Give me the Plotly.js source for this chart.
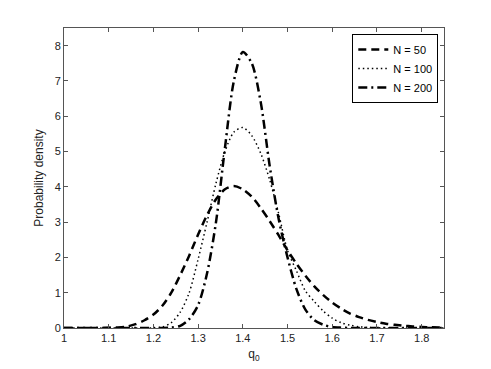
<!DOCTYPE html>
<html>
<head>
<meta charset="utf-8">
<script src="https://cdn.plot.ly/plotly-3.0.1.min.js"></script>
<style>
  html, body { margin: 0; padding: 0; background: #fff; }
  #chart { width: 491px; height: 369px; }
</style>
</head>
<body>
<div id="chart"></div>
<script>
// q0 grid and densities
const q0 = [1.00, 1.05, 1.10, 1.12, 1.14, 1.16, 1.18, 1.20, 1.22, 1.24, 1.26, 1.28, 1.30,
  1.32, 1.34, 1.36, 1.38, 1.40, 1.42, 1.44, 1.46, 1.48, 1.50, 1.52, 1.54, 1.56, 1.58,
  1.60, 1.62, 1.64, 1.66, 1.68, 1.70, 1.72, 1.74, 1.76, 1.78, 1.80, 1.82, 1.85];

const densityN50 = [0, 0, 0.005, 0.015, 0.04, 0.11, 0.22, 0.38, 0.63, 1.0, 1.5, 2.05, 2.65,
  3.2, 3.65, 3.93, 4.02, 3.93, 3.72, 3.4, 3.03, 2.63, 2.2, 1.82, 1.48, 1.18, 0.93,
  0.72, 0.55, 0.41, 0.31, 0.23, 0.17, 0.12, 0.09, 0.065, 0.045, 0.03, 0.02, 0.01];

const densityN100 = [0, 0, 0, 0, 0, 0, 0, 0.005, 0.03, 0.15, 0.45, 1.0, 1.95,
  3.0, 4.1, 5.0, 5.55, 5.68, 5.45, 4.95, 4.2, 3.25, 2.2, 1.62, 1.05, 0.75, 0.48,
  0.28, 0.15, 0.08, 0.035, 0.015, 0.005, 0, 0, 0, 0, 0, 0, 0];

const densityN200 = [0, 0, 0, 0, 0, 0, 0, 0, 0, 0.01, 0.06, 0.25, 0.65,
  1.55, 3.0, 5.1, 7.0, 7.82, 7.5, 6.4, 4.6, 3.1, 2.0, 1.1, 0.52, 0.22, 0.09,
  0.03, 0.01, 0, 0, 0, 0, 0, 0, 0, 0, 0, 0, 0];

const seriesNames = ['N = 50', 'N = 100', 'N = 200'];

const font = { family: '"Liberation Sans", Arial, sans-serif', size: 11, color: '#222' };

function trace(name, y, dash, width) {
  return {
    type: 'scatter',
    mode: 'lines',
    name: name,
    x: q0,
    y: y,
    line: { color: '#000', dash: dash, width: width, shape: 'spline', smoothing: 0.8 }
  };
}

const data = [
  trace(seriesNames[0], densityN50, '8px,5px', 2.5),
  trace(seriesNames[1], densityN100, '1.5px,3px', 1.5),
  trace(seriesNames[2], densityN200, '9px,4px,2px,4px', 2.5)
];

const axisCommon = {
  showline: true,
  linecolor: '#555',
  linewidth: 1,
  mirror: 'ticks',
  ticks: 'inside',
  ticklen: 4,
  tickcolor: '#555',
  showgrid: false,
  zeroline: false,
  tickfont: font
};

const layout = {
  width: 491,
  height: 369,
  margin: { l: 64, r: 47, t: 28, b: 41 },
  paper_bgcolor: '#fff',
  plot_bgcolor: '#fff',
  font: font,
  showlegend: true,
  legend: {
    x: 0.985, y: 0.98, xanchor: 'right', yanchor: 'top',
    bgcolor: '#fff', bordercolor: '#000', borderwidth: 1,
    font: { family: font.family, size: 11, color: '#000' },
    tracegroupgap: 0,
    itemwidth: 30
  },
  xaxis: Object.assign({}, axisCommon, {
    range: [1, 1.85],
    dtick: 0.1,
    tick0: 1,
    title: { text: 'q<sub>0</sub>', font: { family: font.family, size: 12, color: '#222' }, standoff: 6 }
  }),
  yaxis: Object.assign({}, axisCommon, {
    range: [0, 8.5],
    dtick: 1,
    tick0: 0,
    title: { text: 'Probability density', font: { family: font.family, size: 12, color: '#222' }, standoff: 8 }
  })
};

Plotly.newPlot('chart', data, layout, { displayModeBar: false, staticPlot: true });
</script>
</body>
</html>
